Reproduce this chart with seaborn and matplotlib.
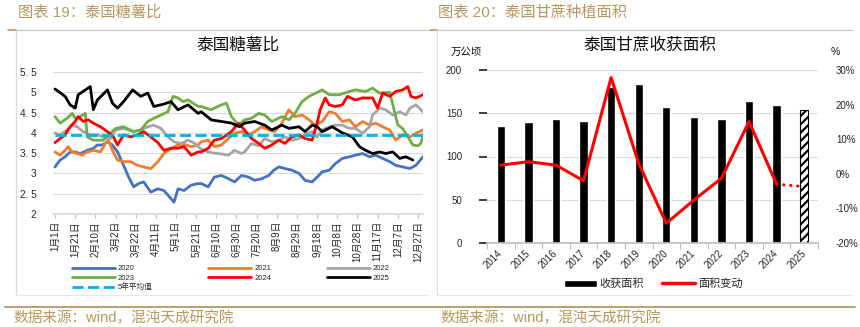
import numpy as np
import pandas as pd
import matplotlib
matplotlib.use("Agg")
import matplotlib.pyplot as plt
import seaborn as sns
from matplotlib.lines import Line2D
from matplotlib.patches import Patch

# ---------------- data: left chart (Thai sugar / cassava ratio) ----------------
days_2020 = [0, 5, 10, 15, 20, 25, 32, 38, 42, 47, 52, 57, 62, 68, 73, 78, 83, 88, 95, 102, 108, 115, 118, 122,
             128, 135, 142, 145, 152, 158, 165, 172, 178, 185, 192, 198, 205, 212, 217, 222, 228, 235, 242, 248,
             255, 260, 265, 272, 278, 285, 292, 298, 305, 312, 318, 325, 332, 338, 345, 352, 358, 365]
vals_2020 = [3.16, 3.33, 3.41, 3.53, 3.53, 3.49, 3.57, 3.62, 3.70, 3.70, 3.78, 3.70, 3.53, 3.20, 2.91, 2.67, 2.75,
             2.79, 2.54, 2.62, 2.58, 2.38, 2.29, 2.62, 2.58, 2.71, 2.75, 2.75, 2.67, 2.91, 2.95, 2.87, 2.79, 2.95,
             2.91, 2.83, 2.87, 2.95, 3.08, 3.16, 3.12, 3.08, 3.00, 2.83, 2.79, 2.91, 3.04, 3.08, 3.24, 3.37, 3.41,
             3.45, 3.49, 3.41, 3.45, 3.37, 3.29, 3.20, 3.16, 3.12, 3.20, 3.41]

days_2021 = [0, 5, 10, 13, 17, 22, 27, 32, 38, 45, 50, 53, 57, 62, 68, 75, 82, 88, 95, 102, 108, 115, 122, 128,
             135, 142, 145, 152, 158, 165, 172, 178, 185, 192, 198, 205, 212, 218, 225, 232, 238, 245, 252, 258,
             265, 272, 278, 285, 292, 298, 305, 312, 318, 325, 332, 338, 345, 352, 358, 365]
vals_2021 = [3.53, 3.45, 3.57, 3.66, 3.53, 3.49, 3.45, 3.53, 3.57, 3.53, 3.74, 3.82, 3.57, 3.33, 3.29, 3.29, 3.20,
             3.16, 3.12, 3.29, 3.49, 3.62, 3.70, 3.72, 3.66, 3.70, 3.78, 3.82, 3.66, 3.70, 3.86, 3.99, 4.03, 3.95,
             4.03, 4.15, 4.07, 4.03, 4.24, 4.57, 4.40, 4.44, 4.32, 4.19, 4.28, 4.52, 4.48, 4.28, 4.32, 4.15, 4.28,
             4.19, 4.24, 4.15, 4.07, 3.82, 3.95, 3.90, 3.99, 4.07]

days_2022 = [0, 5, 12, 17, 22, 28, 35, 42, 48, 55, 60, 68, 78, 85, 92, 98, 105, 112, 118, 125, 132, 138, 145, 152,
             158, 165, 172, 178, 185, 188, 195, 202, 208, 215, 222, 228, 235, 242, 248, 255, 260, 265, 272, 278,
             285, 292, 298, 305, 312, 315, 322, 328, 335, 342, 348, 352, 358, 365]
vals_2022 = [4.00, 3.95, 4.07, 4.19, 4.15, 4.03, 3.95, 3.95, 3.90, 3.86, 4.07, 4.11, 4.03, 4.07, 4.15, 4.19, 4.11,
             3.90, 3.78, 3.74, 3.82, 3.75, 3.60, 3.53, 3.50, 3.48, 3.45, 3.57, 3.49, 3.53, 3.74, 3.68, 3.86, 3.78,
             3.82, 3.90, 3.82, 3.86, 3.95, 4.03, 3.90, 4.07, 4.15, 4.19, 4.19, 4.11, 4.11, 3.99, 4.15, 4.44, 4.61,
             4.57, 4.44, 4.52, 4.44, 4.61, 4.69, 4.52]

days_2023 = [0, 5, 12, 17, 20, 25, 30, 32, 38, 48, 60, 68, 78, 85, 92, 98, 105, 112, 117, 122, 127, 132, 142, 145,
             155, 165, 170, 175, 182, 188, 195, 202, 208, 215, 225, 232, 238, 245, 252, 262, 265, 272, 282, 292,
             298, 308, 315, 322, 332, 336, 340, 345, 350, 355, 360, 363, 365]
vals_2023 = [4.40, 4.24, 4.36, 4.48, 4.36, 4.40, 4.48, 3.90, 3.82, 3.82, 4.11, 4.15, 4.03, 4.07, 4.28, 4.36, 4.44,
             4.52, 4.90, 4.86, 4.77, 4.81, 4.65, 4.65, 4.57, 4.69, 4.73, 4.40, 4.19, 4.32, 4.36, 4.48, 4.44, 4.28,
             4.40, 4.32, 4.48, 4.77, 4.90, 5.02, 5.06, 4.94, 4.94, 5.02, 5.06, 5.02, 5.10, 4.98, 5.00, 4.60, 4.20,
             4.10, 3.90, 3.70, 3.68, 3.75, 3.95]

days_2024 = [0, 5, 10, 15, 20, 23, 28, 33, 38, 45, 52, 58, 62, 68, 75, 82, 88, 95, 102, 108, 115, 122, 128, 135,
             142, 145, 152, 158, 165, 175, 182, 188, 195, 202, 208, 215, 222, 228, 235, 242, 248, 255, 260, 263,
             268, 272, 278, 285, 290, 298, 305, 315, 320, 325, 332, 338, 345, 350, 353, 358, 365]
vals_2024 = [3.76, 3.86, 3.95, 4.15, 4.28, 4.40, 4.28, 4.32, 4.24, 4.15, 4.03, 3.90, 3.70, 3.95, 3.90, 3.95, 4.03,
             3.90, 3.76, 3.57, 3.62, 3.62, 3.66, 3.45, 3.53, 3.53, 3.62, 3.82, 3.86, 4.03, 4.24, 4.07, 3.86, 3.74,
             3.62, 3.70, 3.82, 3.74, 3.90, 3.95, 3.86, 3.82, 4.24, 4.57, 4.86, 4.69, 4.65, 4.69, 4.90, 4.81, 4.86,
             4.86, 4.61, 4.98, 4.90, 5.02, 5.06, 5.14, 4.90, 4.86, 4.94]

days_2025 = [0, 10, 15, 20, 23, 35, 38, 42, 52, 57, 62, 68, 77, 85, 92, 98, 108, 115, 122, 132, 142, 145, 155, 165,
             175, 183, 188, 198, 208, 215, 225, 232, 242, 248, 255, 260, 265, 275, 285, 295, 302, 308, 315, 322,
             328, 335, 342, 348, 355]
vals_2025 = [5.08, 4.90, 4.69, 4.61, 4.94, 5.14, 4.57, 4.81, 5.06, 4.73, 4.61, 4.77, 5.06, 4.90, 4.98, 4.65, 4.71,
             4.77, 4.57, 4.69, 4.48, 4.52, 4.32, 4.28, 4.24, 4.15, 4.24, 4.28, 4.19, 4.07, 4.19, 4.11, 4.15, 4.03,
             4.19, 4.15, 4.03, 4.15, 4.00, 3.90, 3.66, 3.57, 3.49, 3.53, 3.49, 3.53, 3.37, 3.41, 3.33]

days_mean = [0, 365]
vals_mean = [3.94, 3.94]

left_ticks = ["1月1日", "1月21日", "2月10日", "3月2日", "3月22日", "4月11日", "5月1日", "5月21日", "6月10日",
              "6月30日", "7月20日", "8月9日", "8月29日", "9月18日", "10月8日", "10月28日", "11月17日", "12月7日",
              "12月27日"]
left_yticks = [2, 2.5, 3, 3.5, 4, 4.5, 5, 5.5]
left_ylabels = ["2", "2. 5", "3", "3. 5", "4", "4. 5", "5", "5. 5"]

# ---------------- data: right chart (Thai cane harvested area) ----------------
years = ["2014", "2015", "2016", "2017", "2018", "2019", "2020", "2021", "2022", "2023", "2024", "2025"]
area = [135.6, 140.3, 143.4, 140.7, 180.0, 183.8, 156.9, 145.3, 143.0, 164.2, 159.2, 153.8]
change = [2.5, 3.5, 2.5, -2.0, 27.8, 3.0, -14.3, -7.6, -1.3, 15.1, -3.0, -3.7]

# ---------------- styling ----------------
sns.set_theme(style="white")
plt.rcParams["font.family"] = ["Liberation Sans", "Noto Sans CJK SC", "DejaVu Sans"]
plt.rcParams["hatch.linewidth"] = 1.6

GOLD = "#B8975E"
GRID = "#D9D9D9"
W, H = 860, 327

fig = plt.figure(figsize=(8.6, 3.27), dpi=100)


def fy(y):
    return 1 - y / H


# frames, headers, footers
for x0, x1 in [(16, 428), (437, 852)]:
    fig.add_artist(Line2D([x0 / W, x1 / W], [fy(29.5), fy(29.5)], color="#C8C8C8", lw=0.9))
    fig.add_artist(Line2D([x0 / W, x0 / W], [fy(29.5), fy(295)], color=GRID, lw=0.9))
    fig.add_artist(Line2D([x0 / W, x1 / W], [fy(295), fy(295)], color="#E6E6E6", lw=0.9))
fig.add_artist(Line2D([8 / W, 16 / W], [fy(29.5), fy(29.5)], color=GOLD, lw=1.2))
fig.add_artist(Line2D([430 / W, 437 / W], [fy(29.5), fy(29.5)], color=GOLD, lw=1.2))
fig.add_artist(Line2D([5 / W, 855 / W], [fy(306.5), fy(306.5)], color=GOLD, lw=1.3))

fig.text(18 / W, fy(13), "图表 19：泰国糖薯比", fontsize=11, color=GOLD, va="center", ha="left")
fig.text(438 / W, fy(13), "图表 20：泰国甘蔗种植面积", fontsize=11, color=GOLD, va="center", ha="left")
fig.text(13 / W, fy(318), "数据来源：wind，混沌天成研究院", fontsize=10.5, color=GOLD, va="center", ha="left")
fig.text(440 / W, fy(318), "数据来源：wind，混沌天成研究院", fontsize=10.5, color=GOLD, va="center", ha="left")

# ---------------- left chart ----------------
ax1 = fig.add_axes([53 / W, fy(214), 370 / W, 142 / H])
series = [
    ("2020", days_2020, vals_2020, "#4472C4"),
    ("2021", days_2021, vals_2021, "#ED7D31"),
    ("2022", days_2022, vals_2022, "#A5A5A5"),
    ("2023", days_2023, vals_2023, "#70AD47"),
    ("2024", days_2024, vals_2024, "#FF0000"),
    ("2025", days_2025, vals_2025, "#000000"),
]
handles = {}
for name, d, v, c in series:
    df = pd.DataFrame({"day": d, "value": v})
    sns.lineplot(data=df, x="day", y="value", color=c, lw=2.0, ax=ax1, estimator=None, sort=False)
    handles[name] = Line2D([], [], color=c, lw=2.0)
dfm = pd.DataFrame({"day": days_mean, "value": vals_mean})
sns.lineplot(data=dfm, x="day", y="value", color="#00B0F0", lw=2.0, ax=ax1, linestyle=(0, (4, 1.6)))
handles["5年平均值"] = Line2D([], [], color="#00B0F0", lw=2.0, linestyle=(0, (4, 1.6)))

ax1.set_xlim(-2, 365)
ax1.set_ylim(2, 5.5)
ax1.set_xlabel("")
ax1.set_ylabel("")
ax1.set_yticks(left_yticks)
ax1.set_yticklabels(left_ylabels, fontsize=7.2)
ax1.set_xticks([20 * i for i in range(len(left_ticks))])
ax1.set_xticklabels(left_ticks, rotation=90, fontsize=7)
ax1.yaxis.grid(True, color=GRID, lw=0.8)
ax1.xaxis.grid(False)
for s in ["top", "right", "left"]:
    ax1.spines[s].set_visible(False)
ax1.spines["bottom"].set_color(GRID)
ax1.tick_params(axis="x", bottom=True, length=3, width=0.8, color="#BFBFBF", pad=2)
ax1.tick_params(axis="y", left=False, pad=6)

order = ["2020", "2023", "5年平均值", "2021", "2024", "2022", "2025"]
fig.legend([handles[k] for k in order], order, loc="upper left", bbox_to_anchor=(72 / W, fy(265)),
           ncol=3, frameon=False, fontsize=5.5, handlelength=5.6, handletextpad=0.4,
           columnspacing=7.3, labelspacing=0.25, borderpad=0, borderaxespad=0)

fig.text(238 / W, fy(45), "泰国糖薯比", fontsize=12, ha="center", va="center", color="#111111")

# ---------------- right chart ----------------
ax2 = fig.add_axes([487 / W, fy(243), 331 / W, 173 / H])
df2 = pd.DataFrame({"year": years, "area": area})
sns.barplot(data=df2, x="year", y="area", color="black", width=0.3, saturation=1, ax=ax2)
last = ax2.patches[-1]
last.set_facecolor("white")
last.set_edgecolor("black")
last.set_hatch("////")
last.set_linewidth(0.8)
ax2.set_axisbelow(True)
ax2.set_ylim(0, 200)
ax2.set_yticks([0, 50, 100, 150, 200])
ax2.yaxis.grid(True, color=GRID, lw=0.8)
ax2.xaxis.grid(False)
ax2.set_xlabel("")
ax2.set_ylabel("")
for s in ["top", "right", "left"]:
    ax2.spines[s].set_visible(False)
ax2.spines["bottom"].set_color("#BFBFBF")
ax2.tick_params(axis="y", left=False, labelsize=7, pad=12)
ax2.set_xticks(range(len(years)))
ax2.set_xticklabels(years, rotation=45, ha="right", va="center", rotation_mode="anchor", fontsize=7)
ax2.tick_params(axis="x", which="major", length=0, pad=6)
ax2.set_xticks(np.arange(-0.5, len(years), 1), minor=True)
ax2.tick_params(axis="x", which="minor", bottom=True, length=4, width=0.8, color="#BFBFBF")

ax3 = ax2.twinx()
pos = np.arange(len(years))
sns.lineplot(x=pos[:11], y=change[:11], color="#FF0000", lw=2.2, ax=ax3)
sns.lineplot(x=pos[10:], y=change[10:], color="#FF0000", lw=2.2, ax=ax3,
             linestyle=(0, (0.1, 2.2)), dash_capstyle="round")
ax3.set_ylim(-20, 30)
ax3.set_yticks([-20, -10, 0, 10, 20, 30])
ax3.set_yticklabels(["-20%", "-10%", "0%", "10%", "20%", "30%"])
ax3.tick_params(axis="y", right=False, labelsize=7, pad=7)
for s in ["top", "right", "left", "bottom"]:
    ax3.spines[s].set_visible(False)
ax3.grid(False)
ax3.set_ylabel("")
ax2.set_xlim(-0.5, 11.5)

fig.text(650 / W, fy(45), "泰国甘蔗收获面积", fontsize=12, ha="center", va="center", color="#111111")
fig.text(466 / W, fy(52), "万公顷", fontsize=7.5, ha="center", va="center", color="#111111")
fig.text(835 / W, fy(52), "%", fontsize=7.5, ha="center", va="center", color="#111111")

fig.legend([Patch(facecolor="black"), Line2D([], [], color="#FF0000", lw=2.5)], ["收获面积", "面积变动"],
           loc="center", bbox_to_anchor=(653 / W, fy(284)), ncol=2, frameon=False, fontsize=8,
           handlelength=3.0, handletextpad=0.25, columnspacing=1.6, borderpad=0, borderaxespad=0)

fig.savefig("out.png", dpi=100)
